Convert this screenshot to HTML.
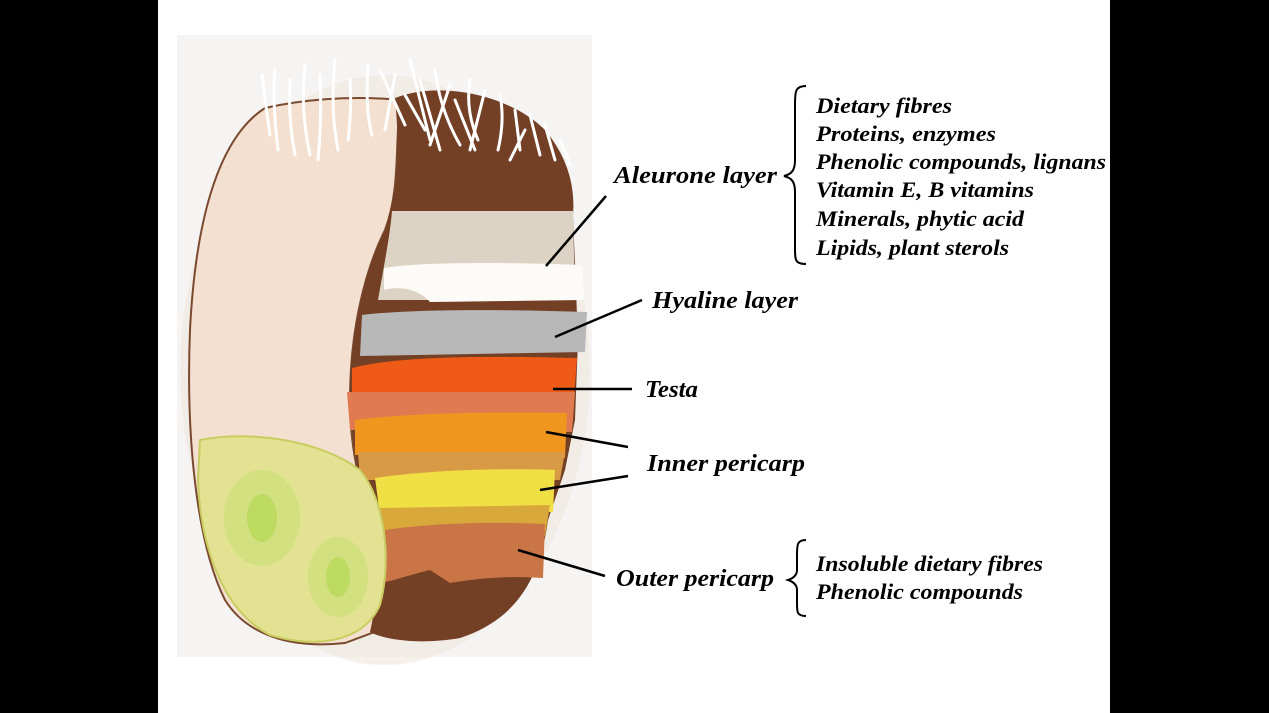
<!DOCTYPE html>
<html><head><meta charset="utf-8"><style>
html,body{margin:0;padding:0;background:#000;}
svg{display:block}
text{font-family:"Liberation Serif",serif;font-weight:bold;font-style:italic;fill:#000}
</style></head><body>
<svg width="1269" height="713" viewBox="0 0 1269 713" xmlns="http://www.w3.org/2000/svg">
<rect x="0" y="0" width="1269" height="713" fill="#000"/>
<rect x="158" y="0" width="952" height="713" fill="#fff"/>
<rect x="177" y="35" width="415" height="622" fill="#f6f4f2"/>
<ellipse cx="385" cy="370" rx="205" ry="295" fill="#f0e6de" opacity="0.6"/>
<!-- beige seed body -->
<path d="M400,100 C350,95 300,100 265,108 C215,140 195,230 190,330 C186,430 195,540 225,600 C250,640 300,648 345,643 L380,630 L390,560 C370,520 350,470 350,400 C350,330 365,270 385,230 C400,190 395,150 400,100 Z" fill="#f4e0d0" stroke="#7a4a30" stroke-width="2"/>
<!-- dark brown outer shell -->
<path d="M395,98 C440,80 510,95 545,130 C570,160 575,190 573,215 L578,340 L575,420 L565,470 L548,520 C540,580 515,620 460,638 C420,645 385,640 370,632 L385,560 C370,520 352,470 350,400 C350,330 365,270 385,230 C398,190 400,150 395,98 Z" fill="#733f25"/>
<path d="M392,211 L573,211 L575,300 L378,300 C385,260 390,235 392,211 Z" fill="#ddd3c4"/>
<path d="M384,268 C420,262 500,262 582,265 L584,300 L430,302 C420,290 400,285 384,290 Z" fill="#fdfbf7"/>
<path d="M362,315 C420,308 520,310 587,312 L585,352 L360,356 Z" fill="#b8b8b8"/>
<path d="M352,368 C400,355 500,356 577,358 L574,398 L352,392 Z" fill="#ef5a16"/>
<path d="M347,392 L575,392 L572,432 L350,430 Z" fill="#e07a50"/>
<path d="M355,420 C420,412 500,412 567,413 L565,458 L355,455 Z" fill="#f0951e"/>
<path d="M358,452 L565,452 L560,480 L360,480 Z" fill="#d89a45"/>
<path d="M375,478 C430,470 500,468 555,470 L553,512 L380,515 Z" fill="#f0e045"/>
<path d="M380,508 L550,505 L545,536 L385,538 Z" fill="#d9a83a"/>
<path d="M385,530 C440,522 500,522 545,524 L543,578 C500,575 470,580 450,583 L430,570 C410,575 395,580 385,582 Z" fill="#c97545"/>
<!-- green germ -->
<path d="M200,440 C250,430 320,440 360,470 C385,500 392,560 380,605 C365,640 320,650 270,635 C220,610 200,540 198,480 Z" fill="#e2e292" stroke="#c9cc60" stroke-width="2"/>
<ellipse cx="262" cy="518" rx="38" ry="48" fill="#cfe07a" opacity="0.8"/>
<ellipse cx="262" cy="518" rx="15" ry="24" fill="#b8d85a" opacity="0.8"/>
<ellipse cx="338" cy="577" rx="30" ry="40" fill="#cfe07a" opacity="0.8"/>
<ellipse cx="338" cy="577" rx="12" ry="20" fill="#b8d85a" opacity="0.8"/>
<g stroke="#fff" stroke-width="3" fill="none" stroke-linecap="round">
<path d="M262,75 Q265,100 270,135"/><path d="M275,70 Q272,100 278,150"/><path d="M290,80 Q288,120 295,155"/>
<path d="M305,65 Q300,110 310,155"/><path d="M320,75 Q322,120 318,160"/><path d="M335,60 Q330,110 338,150"/>
<path d="M350,80 Q352,110 348,140"/><path d="M368,65 Q365,110 372,135"/><path d="M380,70 L405,125"/>
<path d="M395,75 L385,130"/><path d="M410,60 Q420,100 430,140"/><path d="M420,80 L440,150"/>
<path d="M435,70 Q440,110 460,145"/><path d="M450,85 L430,145"/><path d="M470,80 Q465,110 478,140"/>
<path d="M485,90 L470,150"/><path d="M500,95 Q505,120 498,150"/><path d="M515,110 L520,150"/>
<path d="M530,115 L540,155"/><path d="M545,125 L555,160"/><path d="M560,140 L570,165"/><path d="M405,95 L425,130"/>
<path d="M455,100 L475,150"/><path d="M525,130 L510,160"/>
</g>
<g stroke="#000" stroke-width="2.5">
<line x1="606" y1="196" x2="546" y2="266"/>
<line x1="642" y1="300" x2="555" y2="337"/>
<line x1="632" y1="389" x2="553" y2="389"/>
<line x1="628" y1="447" x2="546" y2="432"/>
<line x1="628" y1="476" x2="540" y2="490"/>
<line x1="605" y1="576" x2="518" y2="550"/>
</g>
<path d="M806,86 C795,86 795,92 795,105 L795,160 C795,170 792,174 784,176 C792,178 795,182 795,192 L795,248 C795,260 795,264 806,264" fill="none" stroke="#000" stroke-width="2"/>
<path d="M806,540 C797,540 797,545 797,555 L797,570 C797,575 794,578 788,580 C794,582 797,585 797,590 L797,604 C797,612 797,616 806,616" fill="none" stroke="#000" stroke-width="2"/>
<g font-size="24">
<text x="614" y="183" textLength="163" lengthAdjust="spacingAndGlyphs">Aleurone  layer</text>
<text x="652" y="308" textLength="146" lengthAdjust="spacingAndGlyphs">Hyaline  layer</text>
<text x="645" y="397" textLength="53" lengthAdjust="spacingAndGlyphs">Testa</text>
<text x="647" y="471" textLength="158" lengthAdjust="spacingAndGlyphs">Inner pericarp</text>
<text x="616" y="586" textLength="158" lengthAdjust="spacingAndGlyphs">Outer pericarp</text>
</g>
<g font-size="22">
<text x="816" y="113" textLength="136" lengthAdjust="spacingAndGlyphs">Dietary fibres</text>
<text x="816" y="141" textLength="180" lengthAdjust="spacingAndGlyphs">Proteins, enzymes</text>
<text x="816" y="169" textLength="290" lengthAdjust="spacingAndGlyphs">Phenolic compounds, lignans</text>
<text x="816" y="197" textLength="218" lengthAdjust="spacingAndGlyphs">Vitamin E, B vitamins</text>
<text x="816" y="226" textLength="208" lengthAdjust="spacingAndGlyphs">Minerals, phytic acid</text>
<text x="816" y="255" textLength="193" lengthAdjust="spacingAndGlyphs">Lipids, plant sterols</text>
<text x="816" y="571" textLength="227" lengthAdjust="spacingAndGlyphs">Insoluble dietary fibres</text>
<text x="816" y="599" textLength="207" lengthAdjust="spacingAndGlyphs">Phenolic compounds</text>
</g>
</svg>
</body></html>
